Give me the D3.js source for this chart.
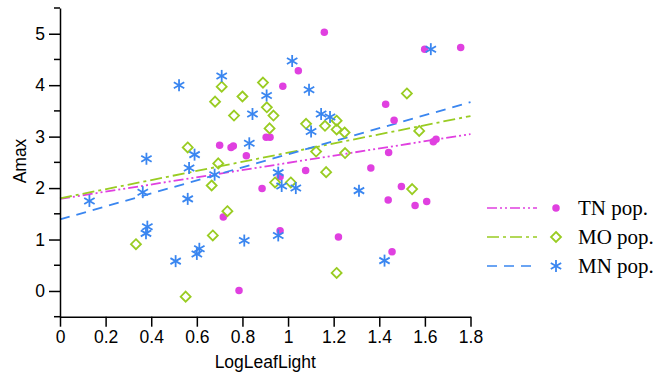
<!DOCTYPE html>
<html>
<head>
<meta charset="utf-8">
<script src="https://cdn.jsdelivr.net/npm/d3@7"></script>
<style>
body { margin: 0; background: #fff; }
</style>
</head>
<body>
<div class="chart"></div>
<script>
// data: [LogLeafLight, Amax]
var tnPoints = [
    [1.159, 5.03], [1.045, 4.28], [0.977, 3.98], [1.599, 4.70], [1.757, 4.73],
    [1.428, 3.63], [1.465, 3.32], [1.637, 2.90], [1.649, 2.95], [1.441, 2.69],
    [1.363, 2.39], [1.077, 2.34], [0.904, 2.99], [0.921, 2.99], [0.700, 2.83],
    [0.750, 2.79], [0.760, 2.82], [0.817, 2.63], [0.886, 1.99], [0.965, 2.22],
    [0.716, 1.44], [0.965, 1.17], [1.221, 1.05], [1.497, 2.03], [1.439, 1.77],
    [1.557, 1.66], [1.608, 1.74], [1.456, 0.76], [0.785, 0.01]
];
var moPoints = [
    [0.560, 2.79], [0.709, 3.97], [0.890, 4.05], [0.680, 3.68], [0.800, 3.78],
    [0.907, 3.57], [0.763, 3.41], [0.936, 3.41], [0.919, 3.16], [1.079, 3.25],
    [1.162, 3.21], [1.213, 3.31], [1.213, 3.14], [1.248, 3.08], [1.250, 2.68],
    [1.123, 2.71], [1.521, 3.84], [1.575, 3.11], [0.694, 2.48], [0.665, 2.05],
    [0.734, 1.55], [0.333, 0.91], [0.670, 1.08], [0.551, -0.11], [0.943, 2.11],
    [1.012, 2.11], [1.167, 2.31], [1.544, 1.98], [1.213, 0.35]
];
var mnPoints = [
    [0.522, 4.00], [0.709, 4.18], [1.018, 4.47], [1.092, 3.91], [0.906, 3.80],
    [0.844, 3.44], [1.145, 3.44], [1.184, 3.38], [1.101, 3.10], [0.830, 2.87],
    [0.379, 2.57], [0.590, 2.65], [0.566, 2.39], [1.626, 4.70], [0.129, 1.75],
    [0.363, 1.92], [0.560, 1.79], [0.678, 2.26], [0.383, 1.25], [0.377, 1.12],
    [0.507, 0.58], [0.611, 0.82], [0.600, 0.72], [0.957, 2.30], [0.972, 2.04],
    [1.034, 2.00], [1.311, 1.95], [0.808, 0.98], [0.957, 1.08], [1.423, 0.59]
];

// fitted lines: Amax at LogLeafLight = 0 and 1.8
var fitX = [0, 1.8];
var tnFit = [1.79, 3.05];
var moFit = [1.80, 3.40];
var mnFit = [1.39, 3.67];

var seriesNames = ["TN pop.", "MO pop.", "MN pop."];
var xTicks = [0, 0.2, 0.4, 0.6, 0.8, 1, 1.2, 1.4, 1.6, 1.8];
var yTicks = [0, 1, 2, 3, 4, 5];
var yMinorTicks = [-0.5, 0.5, 1.5, 2.5, 3.5, 4.5, 5.5];

var pink = "#e040e0", green = "#99cc22", blue = "#3a86f0";

var series = [
    { name: seriesNames[0], pts: tnPoints, fit: tnFit, color: pink, dash: "10,3,2,3,2,3", shape: "dot" },
    { name: seriesNames[1], pts: moPoints, fit: moFit, color: green, dash: "12,4,3,4", shape: "diamond" },
    { name: seriesNames[2], pts: mnPoints, fit: mnFit, color: blue, dash: "10,7", shape: "star" }
];

var svg = d3.select(".chart")
    .append("svg")
    .attr("width", 668)
    .attr("height", 379)

var x = d3.scaleLinear().domain([0, 1.8]).range([60, 470.5]);
var y = d3.scaleLinear().domain([-0.5, 5.5]).range([316.7, 8]);

// fit lines
var line = d3.line()
    .x(function(d) { return x(d[0]); })
    .y(function(d) { return y(d[1]); });

svg.selectAll(".fitLine")
    .data(series)
    .enter().append("path")
    .attr("class", "fitLine")
    .attr("d", function(s) {
        return line(fitX.map(function(v, i) { return [v, s.fit[i]]; }));
    })
    .attr("fill", "none")
    .attr("stroke", function(s) { return s.color; })
    .attr("stroke-width", 1.8)
    .attr("stroke-dasharray", function(s) { return s.dash; })

function drawMarker(g, shape, color, size) {
    if (shape === "dot") {
        g.append("circle")
            .attr("r", size * 0.75)
            .attr("fill", color)
    } else if (shape === "diamond") {
        var h = size;
        g.append("path")
            .attr("d", "M0," + (-h) + "L" + h + ",0L0," + h + "L" + (-h) + ",0Z")
            .attr("fill", "none")
            .attr("stroke", color)
            .attr("stroke-width", 1.8)
    } else {
        var r = size * 1.2;
        [90, 30, 150].forEach(function(a) {
            var rad = a * Math.PI / 180;
            g.append("line")
                .attr("x1", -r * Math.cos(rad)).attr("y1", -r * Math.sin(rad))
                .attr("x2", r * Math.cos(rad)).attr("y2", r * Math.sin(rad))
                .attr("stroke", color)
                .attr("stroke-width", 1.8)
        });
    }
}

// points
series.forEach(function(s) {
    svg.append("g")
        .selectAll("g")
        .data(s.pts)
        .enter().append("g")
        .attr("transform", function(d) {
            return "translate(" + x(d[0]) + "," + y(d[1]) + ")";
        })
        .each(function() { drawMarker(d3.select(this), s.shape, s.color, 5); });
});

// axes
var fmt = d3.format("~g");

var xAxis = svg.append("g")
    .attr("transform", "translate(0," + y(-0.5) + ")")
    .call(d3.axisBottom(x).tickValues(xTicks).tickSize(10).tickPadding(4)
        .tickFormat(fmt).tickSizeOuter(0))

var yAxis = svg.append("g")
    .attr("transform", "translate(" + x(0) + ",0)")
    .call(d3.axisLeft(y).tickValues(yTicks).tickSize(11).tickPadding(4)
        .tickFormat(fmt).tickSizeOuter(0))

yAxis.selectAll(".minorTick")
    .data(yMinorTicks)
    .enter().append("line")
    .attr("class", "minorTick")
    .attr("x1", -6)
    .attr("x2", 0)
    .attr("y1", function(d) { return y(d); })
    .attr("y2", function(d) { return y(d); })
    .attr("stroke", "#000")
    .attr("stroke-width", 1.5)

svg.selectAll(".domain, .tick line")
    .attr("stroke", "#000")
    .attr("stroke-width", 1.5)

svg.selectAll(".tick text")
    .style("font-family", "'Liberation Sans', Arial, sans-serif")
    .style("font-size", "17.5px")
    .attr("fill", "#000")

svg.append("text")
    .attr("x", x(0.9))
    .attr("y", 368)
    .attr("text-anchor", "middle")
    .style("font-family", "'Liberation Sans', Arial, sans-serif")
    .style("font-size", "17.5px")
    .text("LogLeafLight")

svg.append("text")
    .attr("transform", "translate(26," + 161 + ") rotate(-90)")
    .attr("text-anchor", "middle")
    .style("font-family", "'Liberation Sans', Arial, sans-serif")
    .style("font-size", "17.5px")
    .text("Amax")

// legend
var legendItem = svg.selectAll(".legendItem")
    .data(series)
    .enter().append("g")
    .attr("class", "legendItem")
    .attr("transform", function(d, i) {
        return "translate(0," + (208 + i * 29) + ")";
    })

legendItem.append("line")
    .attr("x1", 487)
    .attr("x2", 537)
    .attr("stroke", function(d) { return d.color; })
    .attr("stroke-width", 1.5)
    .attr("stroke-dasharray", function(d) { return d.dash; })

legendItem.append("g")
    .attr("transform", "translate(556,0)")
    .each(function(d) { drawMarker(d3.select(this), d.shape, d.color, 5); })

legendItem.append("text")
    .attr("x", 578)
    .attr("y", 7)
    .style("font-family", "'Liberation Serif', 'Times New Roman', serif")
    .style("font-size", "21px")
    .text(function(d) { return d.name; })
</script>
</body>
</html>
